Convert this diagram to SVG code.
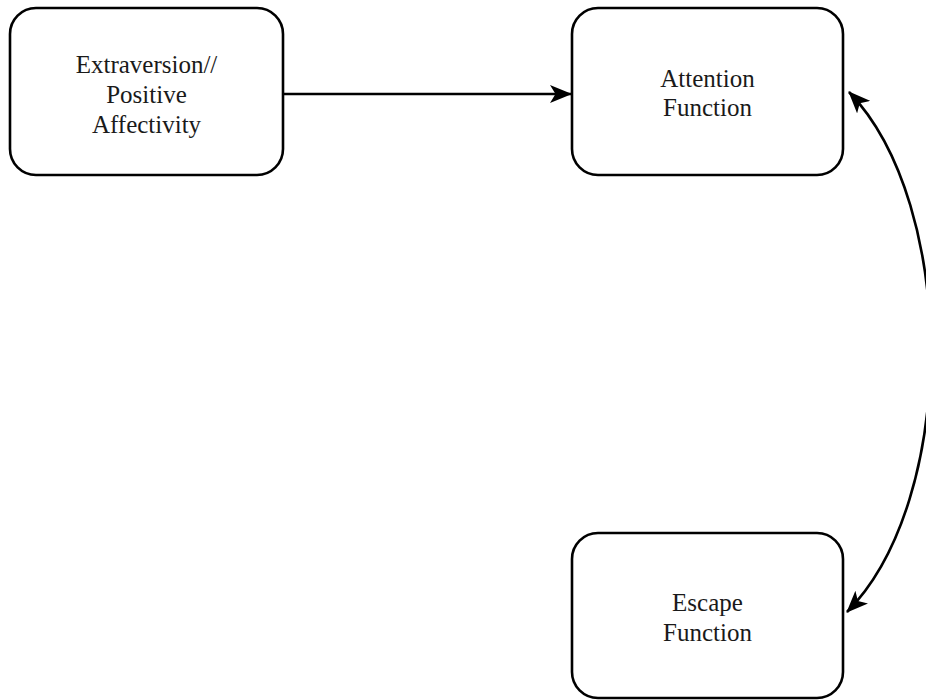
<svg xmlns="http://www.w3.org/2000/svg" width="926" height="700" viewBox="0 0 926 700">
<style>
.box{fill:#fff;stroke:#000;stroke-width:2.6}
.lbl{font-family:"Liberation Serif","Times New Roman",serif;font-size:25px;fill:#1a1a1a;text-anchor:middle}
.edge{fill:none;stroke:#000;stroke-width:2.6}
</style>
<defs>
<marker id="ah" viewBox="0 0 22 18" refX="21" refY="9" markerWidth="22" markerHeight="18" markerUnits="userSpaceOnUse" orient="auto-start-reverse">
<path d="M0,0 L22,9 L0,18 L5.5,9 Z" fill="#000"/>
</marker>
</defs>
<rect width="926" height="700" fill="#fff"/>
<g id="connectors">
<path class="edge" d="M283,94 L571,94" marker-end="url(#ah)"/>
<path class="edge" d="M849,92 C958,205 958,500 847,612" marker-start="url(#ah)" marker-end="url(#ah)"/>
</g>
<g id="extraversion">
<rect class="box" x="10" y="8" width="273" height="167" rx="26"/>
<text class="lbl" x="146.5" y="73">Extraversion//</text>
<text class="lbl" x="146.5" y="103">Positive</text>
<text class="lbl" x="146.5" y="133">Affectivity</text>
</g>
<g id="attention">
<rect class="box" x="572" y="8" width="271" height="167" rx="26"/>
<text class="lbl" x="707.5" y="87">Attention</text>
<text class="lbl" x="707.5" y="116">Function</text>
</g>
<g id="escape">
<rect class="box" x="572" y="533" width="271" height="165" rx="26"/>
<text class="lbl" x="707.5" y="611">Escape</text>
<text class="lbl" x="707.5" y="641">Function</text>
</g>
</svg>
